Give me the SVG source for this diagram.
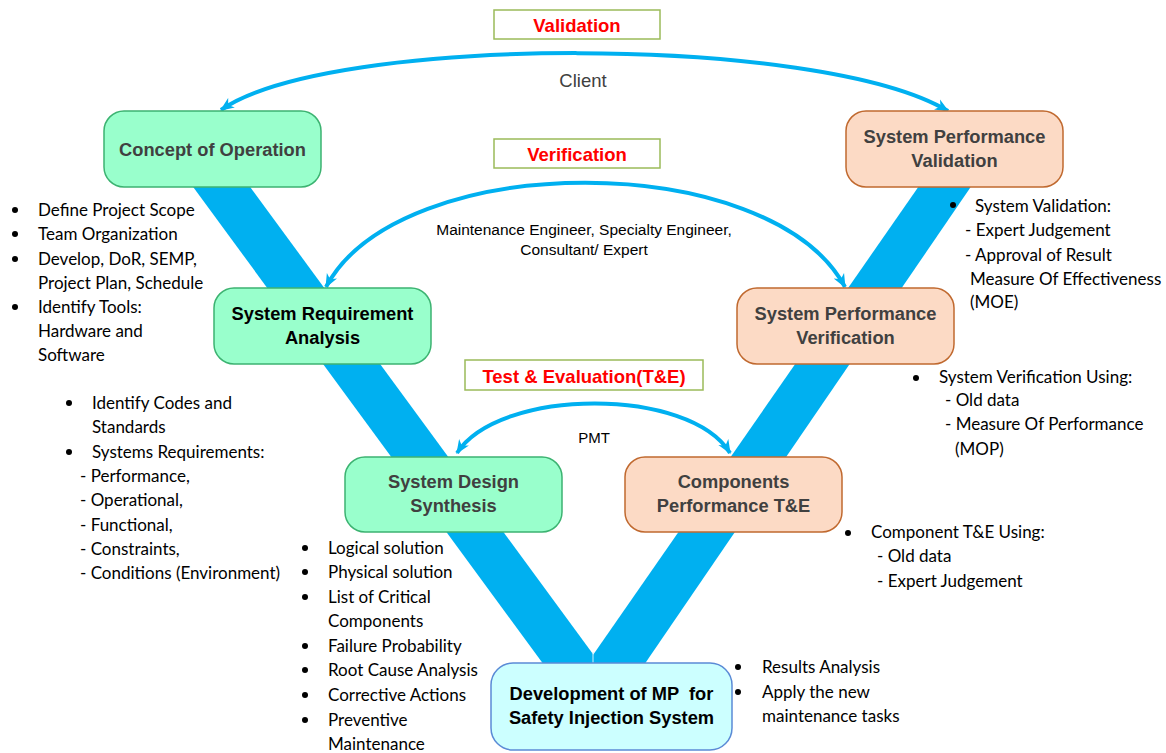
<svg xmlns="http://www.w3.org/2000/svg" width="1166" height="753" viewBox="0 0 1166 753">
<defs>
<style>
.band{fill:#00B0F0}
.arc{fill:none;stroke:#00B0F0;stroke-width:4}
.green{fill:#99FFCC;stroke:#3CB371;stroke-width:1.5}
.peach{fill:#FCDAC5;stroke:#C0692F;stroke-width:1.5}
.cyan{fill:#CCFFFF;stroke:#5B8BD6;stroke-width:1.5}
.lbox{fill:#FFFFFF;stroke:#9BBB59;stroke-width:1.5}
.nt{font-family:"Liberation Sans",Arial,sans-serif;font-weight:bold;font-size:18.3px;text-anchor:middle}
.dk{fill:#404040}
.bk{fill:#000000}
.red{font-family:"Liberation Sans",Arial,sans-serif;font-weight:bold;font-size:18.5px;fill:#FF0000;text-anchor:middle}
.lab{font-family:"Liberation Sans",Arial,sans-serif;font-size:15.5px;fill:#000;text-anchor:middle}
.bt{font-family:Lato,"Noto Sans",sans-serif;font-size:17px;fill:#000}
.dot{fill:#000}
</style>
<marker id="ah" viewBox="0 0 12 10" refX="11" refY="5" markerWidth="14" markerHeight="12" markerUnits="userSpaceOnUse" orient="auto-start-reverse">
<path d="M0,0 L12,5 L0,10 L3.5,5 Z" fill="#00B0F0"/>
</marker>
</defs>
<rect width="1166" height="753" fill="#FFFFFF"/>

<g id="v-shape">
<polygon class="band" points="166,150 223,150 601,665 544,665"/>
<polygon class="band" points="944,150 996,150 644,665 593,665 593,655"/>
<line x1="593" y1="652" x2="593" y2="664" stroke="#CFEFFA" stroke-width="1"/>
</g>

<g id="connectors">
<path class="arc" d="M221,110 C330,34 820,34 948,111" marker-start="url(#ah)" marker-end="url(#ah)"/>
<path class="arc" d="M326,287 C400,148 770,148 845,287" marker-start="url(#ah)" marker-end="url(#ah)"/>
<path class="arc" d="M457,453 C500,387 690,387 730,453" marker-start="url(#ah)" marker-end="url(#ah)"/>
<text class="lab" x="583" y="87" style="font-size:18.5px;fill:#404040">Client</text>
<text class="lab" x="584" y="235">Maintenance Engineer, Specialty Engineer,</text>
<text class="lab" x="584" y="255">Consultant/ Expert</text>
<text class="lab" x="594" y="443" style="font-size:15px">PMT</text>
</g>

<g id="label-validation">
<rect class="lbox" x="494" y="10" width="166" height="29"/>
<text class="red" x="577" y="32">Validation</text>
</g>
<g id="label-verification">
<rect class="lbox" x="494" y="139" width="166" height="29"/>
<text class="red" x="577" y="161">Verification</text>
</g>
<g id="label-te">
<rect class="lbox" x="465" y="360" width="238" height="30"/>
<text class="red" x="584" y="383">Test &amp; Evaluation(T&amp;E)</text>
</g>

<g id="node-concept">
<rect class="green" x="104" y="111" width="217" height="76" rx="20"/>
<text class="nt dk" x="212.5" y="156">Concept of Operation</text>
</g>
<g id="node-spval">
<rect class="peach" x="846" y="111" width="217" height="76" rx="20"/>
<text class="nt dk" x="954.5" y="143">System Performance</text>
<text class="nt dk" x="954.5" y="167">Validation</text>
</g>
<g id="node-sra">
<rect class="green" x="214" y="288" width="217" height="76" rx="20"/>
<text class="nt bk" x="322.5" y="320">System Requirement</text>
<text class="nt bk" x="322.5" y="344">Analysis</text>
</g>
<g id="node-spver">
<rect class="peach" x="737" y="288" width="217" height="76" rx="20"/>
<text class="nt dk" x="845.5" y="320">System Performance</text>
<text class="nt dk" x="845.5" y="344">Verification</text>
</g>
<g id="node-sds">
<rect class="green" x="345" y="457" width="217" height="75" rx="20"/>
<text class="nt dk" x="453.5" y="488">System Design</text>
<text class="nt dk" x="453.5" y="512">Synthesis</text>
</g>
<g id="node-cpte">
<rect class="peach" x="625" y="457" width="217" height="75" rx="20"/>
<text class="nt dk" x="733.5" y="488">Components</text>
<text class="nt dk" x="733.5" y="512">Performance T&amp;E</text>
</g>
<g id="node-dev">
<rect class="cyan" x="491" y="663" width="241" height="87" rx="22"/>
<text class="nt bk" x="611.5" y="700" xml:space="preserve">Development of MP  for</text>
<text class="nt bk" x="611.5" y="724">Safety Injection System</text>
</g>

<g id="notes-concept">
<circle class="dot" cx="15" cy="210" r="3"/>
<circle class="dot" cx="15" cy="234" r="3"/>
<circle class="dot" cx="15" cy="259" r="3"/>
<circle class="dot" cx="15" cy="307" r="3"/>
<text class="bt" x="38" y="216">Define Project Scope</text>
<text class="bt" x="38" y="240">Team Organization</text>
<text class="bt" x="38" y="265">Develop, DoR, SEMP,</text>
<text class="bt" x="38" y="289">Project Plan, Schedule</text>
<text class="bt" x="38" y="313">Identify Tools:</text>
<text class="bt" x="38" y="337">Hardware and</text>
<text class="bt" x="38" y="361">Software</text>
</g>

<g id="notes-sra">
<circle class="dot" cx="69" cy="403" r="3"/>
<circle class="dot" cx="69" cy="452" r="3"/>
<text class="bt" x="92" y="409">Identify Codes and</text>
<text class="bt" x="92" y="433">Standards</text>
<text class="bt" x="92" y="458">Systems Requirements:</text>
<text class="bt" x="80" y="482">- Performance,</text>
<text class="bt" x="80" y="506">- Operational,</text>
<text class="bt" x="80" y="531">- Functional,</text>
<text class="bt" x="80" y="555">- Constraints,</text>
<text class="bt" x="80" y="579">- Conditions (Environment)</text>
</g>

<g id="notes-sds">
<circle class="dot" cx="305" cy="548" r="3"/>
<circle class="dot" cx="305" cy="572" r="3"/>
<circle class="dot" cx="305" cy="597" r="3"/>
<circle class="dot" cx="305" cy="646" r="3"/>
<circle class="dot" cx="305" cy="670" r="3"/>
<circle class="dot" cx="305" cy="695" r="3"/>
<circle class="dot" cx="305" cy="720" r="3"/>
<text class="bt" x="328" y="554">Logical solution</text>
<text class="bt" x="328" y="578">Physical solution</text>
<text class="bt" x="328" y="603">List of Critical</text>
<text class="bt" x="328" y="627">Components</text>
<text class="bt" x="328" y="652">Failure Probability</text>
<text class="bt" x="328" y="676">Root Cause Analysis</text>
<text class="bt" x="328" y="701">Corrective Actions</text>
<text class="bt" x="328" y="726">Preventive</text>
<text class="bt" x="328" y="750">Maintenance</text>
</g>

<g id="notes-spval">
<circle class="dot" cx="953" cy="205" r="3"/>
<text class="bt" x="975" y="212">System Validation:</text>
<text class="bt" x="965" y="236">- Expert Judgement</text>
<text class="bt" x="965" y="261">- Approval of Result</text>
<text class="bt" x="970" y="285">Measure Of Effectiveness</text>
<text class="bt" x="970" y="308">(MOE)</text>
</g>

<g id="notes-spver">
<circle class="dot" cx="916" cy="378" r="3"/>
<text class="bt" x="939" y="383">System Verification Using:</text>
<text class="bt" x="945" y="406">- Old data</text>
<text class="bt" x="945" y="430">- Measure Of Performance</text>
<text class="bt" x="955" y="455">(MOP)</text>
</g>

<g id="notes-cpte">
<circle class="dot" cx="848" cy="533" r="3"/>
<text class="bt" x="871" y="538">Component T&amp;E Using:</text>
<text class="bt" x="877" y="562">- Old data</text>
<text class="bt" x="877" y="587">- Expert Judgement</text>
</g>

<g id="notes-dev">
<circle class="dot" cx="738" cy="667" r="3"/>
<circle class="dot" cx="738" cy="692" r="3"/>
<text class="bt" x="762" y="673">Results Analysis</text>
<text class="bt" x="762" y="698">Apply the new</text>
<text class="bt" x="762" y="722">maintenance tasks</text>
</g>
</svg>
